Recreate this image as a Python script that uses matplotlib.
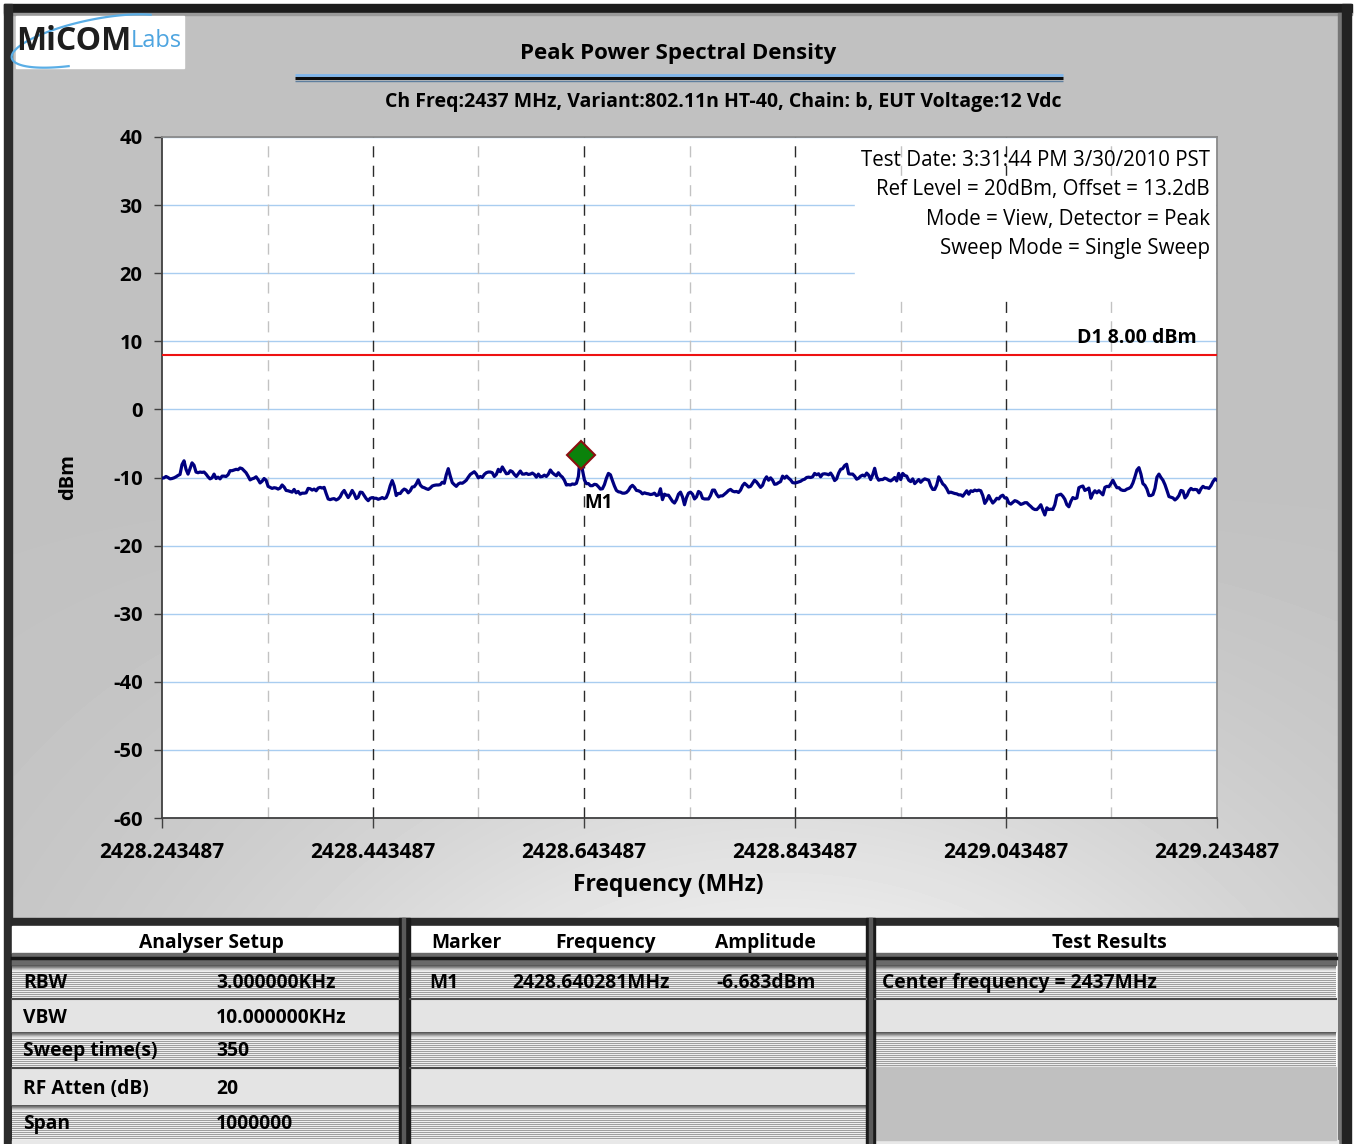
import numpy as np
import matplotlib.pyplot as plt
from matplotlib.patches import Rectangle

plt.rcParams['font.family'] = ['Open Sans', 'DejaVu Sans']

# ---- chart data ----
f_start = 2428.243487
f_stop = 2429.243487

# peak detector sweep, evenly spaced points across the 1 MHz span
psd_dbm = [
    # 2428.24 .. 2428.50
    -10.1, -10.05, -9.85, -10.0, -10.2, -10.15, -10.05, -9.9, -9.7, -9.55,
    -8.1, -7.55, -8.8, -9.5, -8.7, -7.85, -8.2, -9.2, -9.3, -9.2,
    -9.25, -9.2, -9.5, -9.9, -10.2, -10.05, -9.5, -10.15, -9.95, -10.2,
    -9.8, -9.8, -9.85, -9.6, -9.0, -9.0, -8.9, -8.8, -8.85, -8.6,
    -8.7, -9.0, -9.3, -9.8, -10.35, -10.2, -10.1, -9.9, -10.3, -10.8,
    -10.55, -10.15, -10.4, -11.3, -11.45, -11.6, -11.5, -11.55, -11.7, -11.55,
    -11.1, -11.4, -11.9, -11.95, -12.05, -12.15, -11.75, -12.25, -12.05, -12.45,
    -12.3, -12.3, -12.25, -11.6, -11.65, -11.85, -11.7, -11.95, -11.55, -11.45,
    -11.55, -11.45, -12.35, -13.15, -13.25, -13.15, -13.1, -13.3, -13.15, -12.85,
    -12.25, -11.9, -12.45, -12.95, -12.5, -11.9, -12.4, -13.1, -12.9, -12.15,
    -12.2, -12.65, -13.1, -13.4, -13.05, -12.95, -13.05, -13.05, -13.2, -13.1,
    -12.95, -13.1, -12.95, -12.25, -11.2, -10.45, -11.25, -12.65, -12.35, -12.35,
    -11.95, -11.7, -11.85, -12.25, -11.95, -11.4, -11.35, -10.95, -10.35, -11.1,
    -11.4, -11.5, -11.65, -11.75,
    # 2428.50 .. 2428.75
    -11.55, -11.25, -11.15, -11.1, -11.1, -11.05, -10.7, -10.85, -9.6, -8.7,
    -9.8, -10.75, -11.05, -11.3, -10.95, -10.8, -10.85, -10.65, -10.4, -9.95,
    -9.55, -9.35, -9.15, -9.5, -10.05, -9.85, -10.0, -9.55, -9.3, -9.2,
    -9.2, -9.3, -9.85, -9.55, -8.8, -9.15, -8.45, -8.95, -9.45, -9.4,
    -9.0, -9.15, -9.55, -9.85, -9.45, -9.05, -9.5, -9.5, -9.4, -9.55,
    -9.5, -9.35, -9.55, -9.95, -9.5, -9.9, -9.85, -9.65, -9.85, -9.5,
    -8.9, -9.3, -9.55, -9.75, -9.3, -9.7, -9.95, -10.4, -11.1, -11.05,
    -11.1, -10.95, -11.0, -10.85, -9.85, -6.683, -8.85, -10.35, -10.9, -10.9,
    -11.2, -11.2, -11.0, -11.05, -11.35, -11.7, -11.65, -11.05, -10.1, -9.4,
    -9.6, -10.45, -11.25, -11.9, -12.1, -12.15, -12.3, -12.3, -12.2, -11.9,
    -11.4, -11.15, -11.45, -11.9, -11.95, -12.1, -12.4, -12.25, -12.35, -12.4,
    -12.5, -12.45, -12.3, -12.65, -12.55, -11.65, -13.25, -12.45, -12.6, -12.6,
    -13.05, -13.5, -13.75, -13.25, -12.45, -12.15, -12.85, -14.0, -12.95, -12.3,
    -12.15, -12.45,
    # 2428.75 .. 2429.00
    -13.15, -12.85, -12.05, -12.25, -13.05, -13.15, -13.15, -13.15, -12.65, -11.85,
    -11.85, -12.45, -12.85, -12.7, -12.7, -12.45, -12.2, -11.9, -11.75, -12.0,
    -12.1, -12.05, -12.2, -11.85, -11.2, -10.85, -11.1, -11.4, -11.3, -10.85,
    -10.4, -10.65, -11.05, -11.45, -11.15, -10.35, -9.9, -10.4, -10.05, -10.4,
    -11.0, -10.95, -10.75, -10.6, -9.8, -10.1, -9.8, -10.1, -10.35, -10.75,
    -10.8, -10.75, -10.65, -10.55, -10.35, -10.25, -10.0, -9.95, -10.0, -9.9,
    -9.4, -9.6, -9.45, -9.9, -9.5, -9.45, -9.5, -9.6, -9.35, -9.8,
    -10.45, -10.2, -9.35, -8.8, -8.7, -8.25, -8.05, -9.45, -9.5, -9.5,
    -9.8, -10.25, -10.1, -9.8, -9.65, -9.8, -9.35, -9.65, -10.3, -9.6,
    -8.65, -9.9, -10.4, -10.3, -10.3, -10.1, -10.2, -10.4, -10.5, -10.3,
    -10.0, -10.5, -9.4, -10.3, -9.4, -9.7, -9.8, -10.4, -10.6, -10.2,
    -10.9, -10.6, -10.3, -10.7, -10.4, -10.2, -10.3, -10.4, -11.25, -11.75,
    -11.75, -11.1, -9.9, -10.4, -10.95, -11.2, -11.65, -12.25, -12.15, -12.25,
    -12.35, -12.4, -12.55,
    # 2429.00 .. 2429.24
    -12.55, -12.75, -12.35, -11.95, -12.45, -11.95, -12.05, -11.85, -11.95, -11.85,
    -11.95, -12.65, -13.8, -13.35, -12.65, -13.25, -13.75, -13.45, -13.05, -13.15,
    -12.75, -12.6, -13.0, -13.05, -13.75, -13.9, -13.65, -13.4, -13.5, -13.7,
    -13.95, -13.85, -13.7, -13.7, -14.0, -14.25, -14.55, -14.7, -14.7, -14.4,
    -14.0, -14.8, -15.5, -14.45, -14.7, -14.65, -14.7, -14.0, -12.65, -12.55,
    -12.45, -12.75, -13.2, -14.0, -14.3, -13.5, -12.95, -13.1, -13.0, -11.5,
    -11.35, -11.25, -11.9, -11.75, -11.55, -13.05, -12.35, -11.95, -12.25, -11.95,
    -12.25, -12.55, -11.45, -11.3, -11.35, -10.9, -10.4, -11.0, -11.5, -11.5,
    -11.8, -11.9, -11.9, -11.7, -11.6, -11.4, -10.8, -9.9, -8.9, -8.55,
    -9.5, -10.9, -11.15, -11.7, -12.65, -12.65, -12.5, -11.6, -9.95, -9.5,
    -10.0, -10.4, -11.05, -11.9, -12.8, -12.9, -13.0, -13.3, -13.05, -12.65,
    -11.9, -12.0, -13.0, -12.65, -11.95, -11.6, -11.8, -11.75, -11.8, -12.25,
    -11.65, -11.3, -11.5, -11.5, -11.6, -11.2, -10.6, -10.2, -10.4,
]

marker_name = "M1"
marker_freq = 2428.640281
marker_dbm = -6.683
d1_level = 8.00

y_ticks = [40, 30, 20, 10, 0, -10, -20, -30, -40, -50, -60]
x_major = [2428.243487, 2428.443487, 2428.643487, 2428.843487, 2429.043487, 2429.243487]
x_major_labels = ["2428.243487", "2428.443487", "2428.643487",
                  "2428.843487", "2429.043487", "2429.243487"]
x_minor = [2428.343487, 2428.543487, 2428.743487, 2428.943487, 2429.143487]

title = "Peak Power Spectral Density"
subtitle = "Ch Freq:2437 MHz, Variant:802.11n HT-40, Chain: b, EUT Voltage:12 Vdc"
info_lines = ["Test Date: 3:31:44 PM 3/30/2010 PST",
              "Ref Level = 20dBm, Offset = 13.2dB",
              "Mode = View, Detector = Peak",
              "Sweep Mode = Single Sweep"]

setup_names = ["RBW", "VBW", "Sweep time(s)", "RF Atten (dB)", "Span"]
setup_values = ["3.000000KHz", "10.000000KHz", "350", "20", "1000000"]
marker_cols = ["Marker", "Frequency", "Amplitude"]
marker_row = ["M1", "2428.640281MHz", "-6.683dBm"]
result_lines = ["Center frequency = 2437MHz"]

freqs = np.linspace(f_start, f_stop, len(psd_dbm))

# ---- figure / page furniture (pixel coordinates) ----
W, H = 1356, 1144
fig = plt.figure(figsize=(W / 100, H / 100), dpi=100)
fig.patch.set_facecolor('white')
bg = fig.add_axes([0, 0, 1, 1])
bg.set_xlim(0, W)
bg.set_ylim(H, 0)
bg.axis('off')

# grey panel with a soft light patch towards the bottom middle
gx, gy = np.meshgrid(np.linspace(0, 1, 200), np.linspace(0, 1, 200))
shade = 0.755 + 0.16 * np.clip((gy - 0.5) / 0.5, 0, 1) ** 1.3 * np.exp(-((gx - 0.58) / 0.42) ** 2)
bg.imshow(shade, cmap='gray', vmin=0, vmax=1, extent=(12, 1338, 920, 14),
          aspect='auto', interpolation='bilinear', zorder=0)

# outer frame
bg.add_patch(Rectangle((4, 4), 1348, 9, color='#1c1c1c', zorder=1))
bg.add_patch(Rectangle((4, 13), 1348, 1.5, color='#9a9a9a', zorder=1))
bg.add_patch(Rectangle((4, 4), 8, 1140, color='#2b2b2b', zorder=1))
bg.add_patch(Rectangle((1338, 13), 4, 1131, color='#767676', zorder=1))
bg.add_patch(Rectangle((1342, 4), 9, 1140, color='#222222', zorder=1))

# logo
bg.add_patch(Rectangle((16, 16), 168, 52, color='white', zorder=2))
t = np.radians(np.linspace(40, 250, 80))
sx, sy = 82 * np.cos(t), 21 * np.sin(t)
tilt = np.radians(12)
bg.plot(92 + sx * np.cos(tilt) - sy * np.sin(tilt),
        41 - (sx * np.sin(tilt) + sy * np.cos(tilt)),
        color='#5aaee6', lw=1.6, zorder=3)
bg.text(16, 42, "MiCOM", fontsize=23, fontweight='bold', color='#1e1e1e',
        ha='left', va='center', zorder=4)
bg.text(131, 41, "Labs", fontsize=17, color='#4ea5e0', ha='left', va='center', zorder=4)

# titles
bg.text(678, 54, title, fontsize=16, fontweight='bold', ha='center', va='center')
bg.plot([295, 1063], [75, 75], color='#7fb6ec', lw=2, solid_capstyle='butt')
bg.plot([295, 1063], [78, 78], color='#0d0d0d', lw=2.2, solid_capstyle='butt')
bg.plot([295, 1063], [80.5, 80.5], color='#5f7f9f', lw=1, solid_capstyle='butt')
bg.text(723, 102, subtitle, fontsize=14, fontweight='bold', ha='center', va='center')
bg.text(68, 477, "dBm", fontsize=14.5, fontweight='bold', rotation=90, ha='center', va='center')
bg.text(668, 885, "Frequency (MHz)", fontsize=16.5, fontweight='bold', ha='center', va='center')

# ---- plot area ----
ax = fig.add_axes([162 / W, 1 - 818 / H, (1217 - 162) / W, (818 - 137) / H])
ax.set_facecolor('white')
ax.set_xlim(f_start, f_stop)
ax.set_ylim(-60, 40)

for y in y_ticks:
    ax.axhline(y, color='#a9cdf0', lw=1, zorder=1)
for x in x_minor:
    ax.axvline(x, color='#c2c2c2', lw=1, ls=(0, (8, 6)), zorder=1)
for x in x_major[1:-1]:
    ax.axvline(x, color='#2a2a2a', lw=1, ls=(0, (8, 6)), zorder=1)

# white box behind the test info
ax.add_patch(Rectangle((0.657, 0.761), 0.341, 0.182, transform=ax.transAxes,
                       color='white', zorder=2))
for i, line in enumerate(info_lines):
    ax.text(1210, 160 + i * 29.5, line, transform=bg.transData, fontsize=14.8,
            ha='right', va='center', zorder=5, clip_on=False)

ax.axhline(d1_level, color='#ee1111', lw=1.5, zorder=3)
ax.annotate(f"D1 {d1_level:.2f} dBm", (f_stop, d1_level), xytext=(-20, 17),
            textcoords='offset pixels', ha='right', va='center',
            fontsize=14, fontweight='bold', zorder=6)

ax.plot(freqs, psd_dbm, color='#000080', lw=2.3, zorder=4)
ax.plot(marker_freq, marker_dbm, marker='D', ms=14, mfc='#0b820b', mec='#8b1010',
        mew=1.5, zorder=5)
ax.annotate(marker_name, (marker_freq, marker_dbm), xytext=(18, -48),
            textcoords='offset pixels', ha='center', va='center',
            fontsize=13.5, fontweight='bold', zorder=6)

ax.set_yticks(y_ticks)
ax.set_yticklabels([str(v) for v in y_ticks], fontsize=14.5, fontweight='bold')
ax.set_xticks(x_major)
ax.set_xticklabels(x_major_labels, fontsize=15, fontweight='bold')
ax.tick_params(axis='y', direction='out', length=6, width=1, pad=8, colors='#404040', labelcolor='black')
ax.tick_params(axis='x', direction='out', length=7, width=1, pad=10, colors='#404040', labelcolor='black')
for side in ('left', 'bottom'):
    ax.spines[side].set_color('#404040')
    ax.spines[side].set_linewidth(1.3)
for side in ('top', 'right'):
    ax.spines[side].set_color('#8a8a8a')
    ax.spines[side].set_linewidth(1.3)

# ---- result tables ----
def striped(x0, x1, y0, y1):
    n = int(y1 - y0)
    col = np.where(np.arange(n) % 2 == 0, 0.93, 0.62)
    top = np.array([0.35, 0.45, 0.55, 0.68, 0.8, 0.88])
    col[:len(top)] = top[:n]
    bg.imshow(col.reshape(-1, 1), cmap='gray', vmin=0, vmax=1, extent=(x0, x1, y1, y0),
              aspect='auto', interpolation='nearest', zorder=2)

def light(x0, x1, y0, y1, color='#e4e4e4'):
    bg.add_patch(Rectangle((x0, y0), x1 - x0, y1 - y0, color=color, zorder=2))
    bg.plot([x0, x1], [y0 + 0.5, y0 + 0.5], color='#4a4a4a', lw=1.5, zorder=3)

panels = [(12, 399), (410, 866), (875, 1336)]
bg.add_patch(Rectangle((12, 918), 1326, 8, color='#2a2a2a', zorder=2))
bg.add_patch(Rectangle((12, 1140), 1326, 4, color='#e8e8e8', zorder=2))
for x0, x1 in panels:
    bg.add_patch(Rectangle((x0, 926), x1 - x0, 27, color='white', zorder=2))
    bg.add_patch(Rectangle((x0, 953), x1 - x0, 12, color='#6a6a6a', zorder=2))
    bg.plot([x0, x1], [958, 958], color='#151515', lw=2.5, zorder=3)
for xs in ((399, 410), (866, 875)):
    bg.add_patch(Rectangle((xs[0], 918), xs[1] - xs[0], 226, color='#1a1a1a', zorder=3))
    bg.add_patch(Rectangle((xs[0] + 3, 918), 3, 226, color='#5a5a5a', zorder=3))

rows = [(965, 998, 'striped'), (998, 1032, 'light'), (1032, 1067, 'striped'),
        (1067, 1105, 'light'), (1105, 1140, 'striped')]
for i, (y0, y1, kind) in enumerate(rows):
    for j, (x0, x1) in enumerate(panels):
        if j == 2 and i >= 3:
            bg.add_patch(Rectangle((x0, y0), x1 - x0, y1 - y0, color='#c0c0c0', zorder=2))
        elif kind == 'striped':
            striped(x0, x1, y0, y1)
        else:
            light(x0, x1, y0, y1)

tkw = dict(fontsize=13.9, fontweight='bold', va='center', zorder=6)
bg.text(211, 943, "Analyser Setup", ha='center', **tkw)
bg.text(431, 943, marker_cols[0], ha='left', **tkw)
bg.text(606, 943, marker_cols[1], ha='center', **tkw)
bg.text(765, 943, marker_cols[2], ha='center', **tkw)
bg.text(1109, 943, "Test Results", ha='center', **tkw)

row_y = [983, 1018, 1051, 1089, 1124]
for name, value, y in zip(setup_names, setup_values, row_y):
    bg.text(23, y, name, ha='left', **tkw)
    bg.text(216, y, value, ha='left', **tkw)
bg.text(429, row_y[0], marker_row[0], ha='left', **tkw)
bg.text(512, row_y[0], marker_row[1], ha='left', **tkw)
bg.text(716, row_y[0], marker_row[2], ha='left', **tkw)
for line, y in zip(result_lines, row_y):
    bg.text(882, y, line, ha='left', **tkw)

fig.savefig('out.png', dpi=100)
